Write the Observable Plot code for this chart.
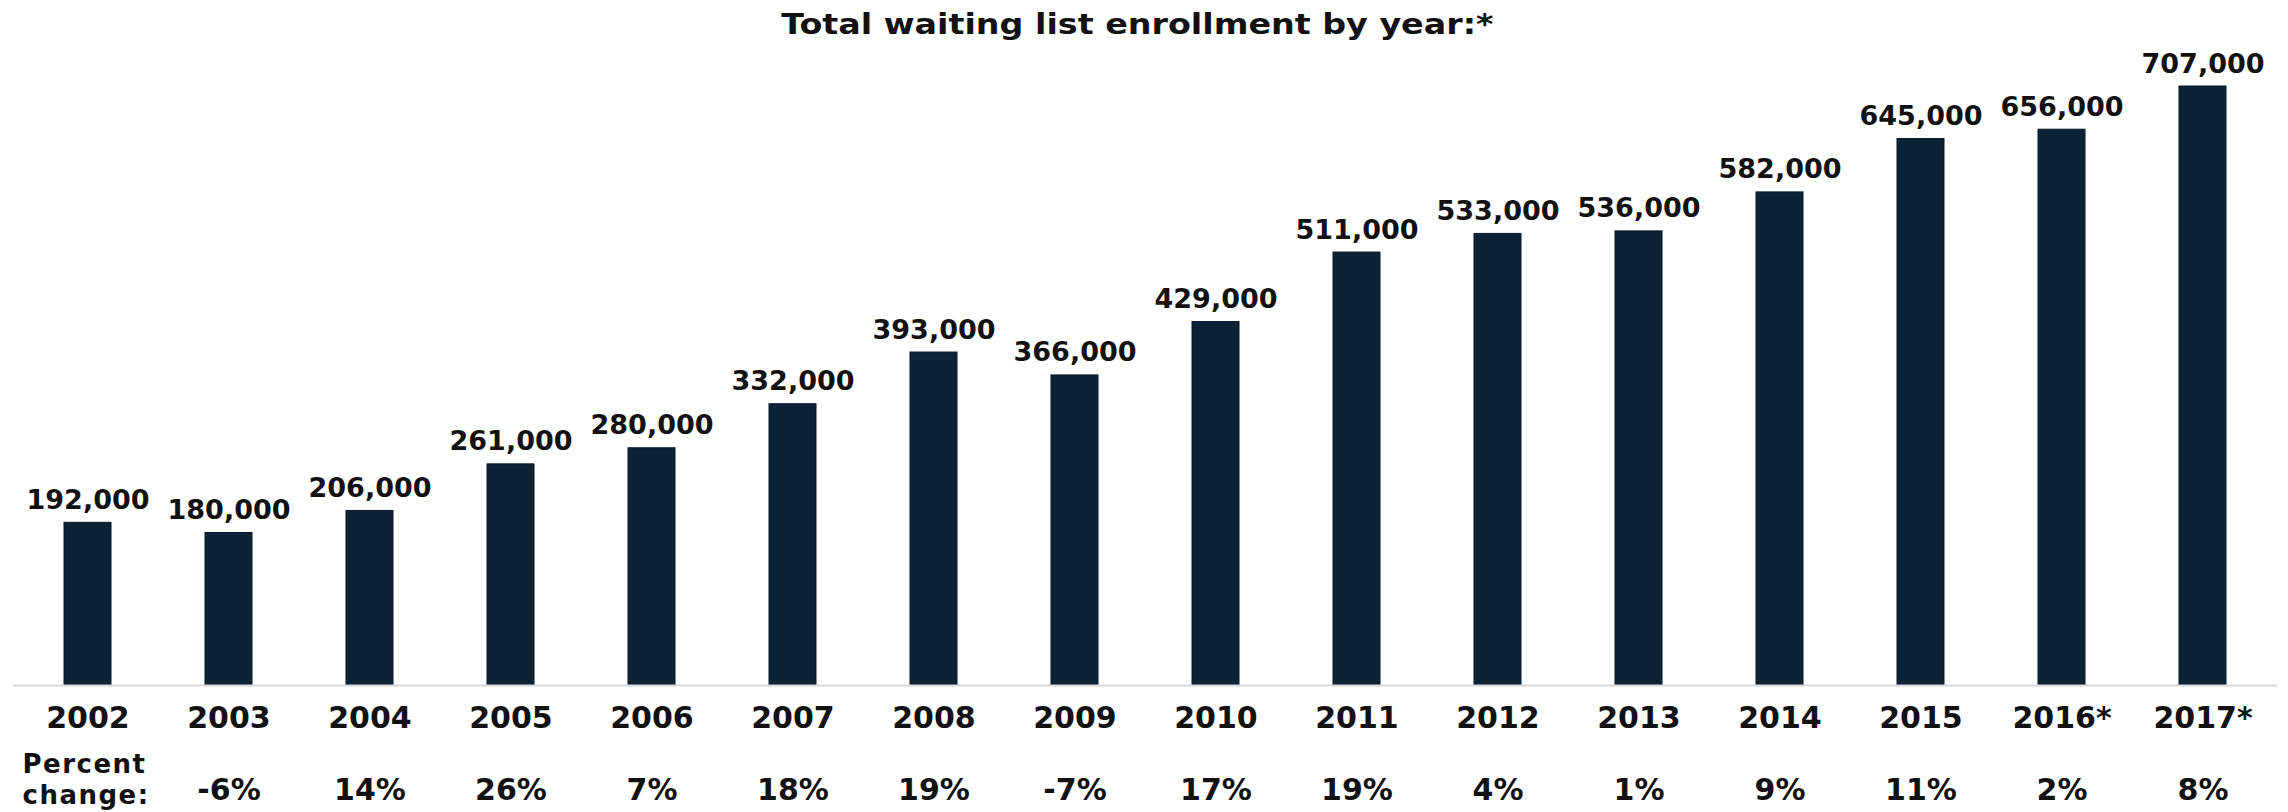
<!DOCTYPE html>
<html>
<head>
<meta charset="utf-8">
<script src="https://cdn.jsdelivr.net/npm/d3@7"></script>
<script src="https://cdn.jsdelivr.net/npm/@observablehq/plot@0.6"></script>
<style>
  html, body { margin: 0; padding: 0; background: #fff; }
  #wrap { position: relative; width: 2288px; height: 812px; }
  #title { position: absolute; left: 0; top: 0; width: 2275px; height: 50px; line-height: 50px; text-align: center;
           font-family: "DejaVu Sans", sans-serif; font-weight: bold; font-size: 28px; color: #111; z-index: 2; }
  #title span { display: inline-block; transform: scaleX(1.19); transform-origin: center; }
  #chart svg { display: block; }
  .rowlabel text { letter-spacing: 1.5px; }
</style>
</head>
<body>
<div id="wrap">
  <div id="title"><span>Total waiting list enrollment by year:*</span></div>
  <div id="chart"></div>
</div>
<script>
const years = ["2002","2003","2004","2005","2006","2007","2008","2009","2010","2011","2012","2013","2014","2015","2016*","2017*"];
const enrollment = [192000,180000,206000,261000,280000,332000,393000,366000,429000,511000,533000,536000,582000,645000,656000,707000];
const pctChange = ["","-6%","14%","26%","7%","18%","19%","-7%","17%","19%","4%","1%","9%","11%","2%","8%"];
const rowLabelTop = "Percent";
const rowLabelBottom = "change:";

const data = years.map((year, i) => ({year, value: enrollment[i], pct: pctChange[i]}));
const fmt = d3.format(",");
const font = "DejaVu Sans, sans-serif";

const plot = Plot.plot({
  width: 2288,
  height: 812,
  marginLeft: 13,
  marginRight: 11,
  marginTop: 86,
  marginBottom: 127,
  style: {fontFamily: font, background: "transparent"},
  x: {domain: years, paddingInner: 0.668, paddingOuter: 0.334, axis: null},
  y: {domain: [0, 707000], axis: null},
  marks: [
    Plot.barY(data, {x: "year", y: "value", fill: "#0b2237", stroke: "#07182a", strokeWidth: 1}),
    Plot.ruleY([0], {stroke: "#d9d9d9", strokeWidth: 2}),
    Plot.text(data, {x: "year", y: "value", text: d => fmt(d.value), lineAnchor: "bottom", dy: -14,
      fontSize: 27, fontWeight: "bold", fill: "#111"}),
    Plot.text(data, {x: "year", text: "year", frameAnchor: "bottom", lineAnchor: "bottom", dy: 42,
      fontSize: 30, fontWeight: "bold", fill: "#111"}),
    Plot.text(data, {x: "year", text: "pct", frameAnchor: "bottom", lineAnchor: "bottom", dy: 114,
      fontSize: 30, fontWeight: "bold", fill: "#111"}),
    Plot.text([rowLabelTop], {text: d => d, frameAnchor: "bottom-left", textAnchor: "start", lineAnchor: "bottom",
      dx: 9, dy: 87, fontSize: 26, fontWeight: "bold", fill: "#111", className: "rowlabel"}),
    Plot.text([rowLabelBottom], {text: d => d, frameAnchor: "bottom-left", textAnchor: "start", lineAnchor: "bottom",
      dx: 9, dy: 118, fontSize: 26, fontWeight: "bold", fill: "#111", className: "rowlabel"})
  ]
});
document.getElementById("chart").appendChild(plot);
</script>
</body>
</html>
